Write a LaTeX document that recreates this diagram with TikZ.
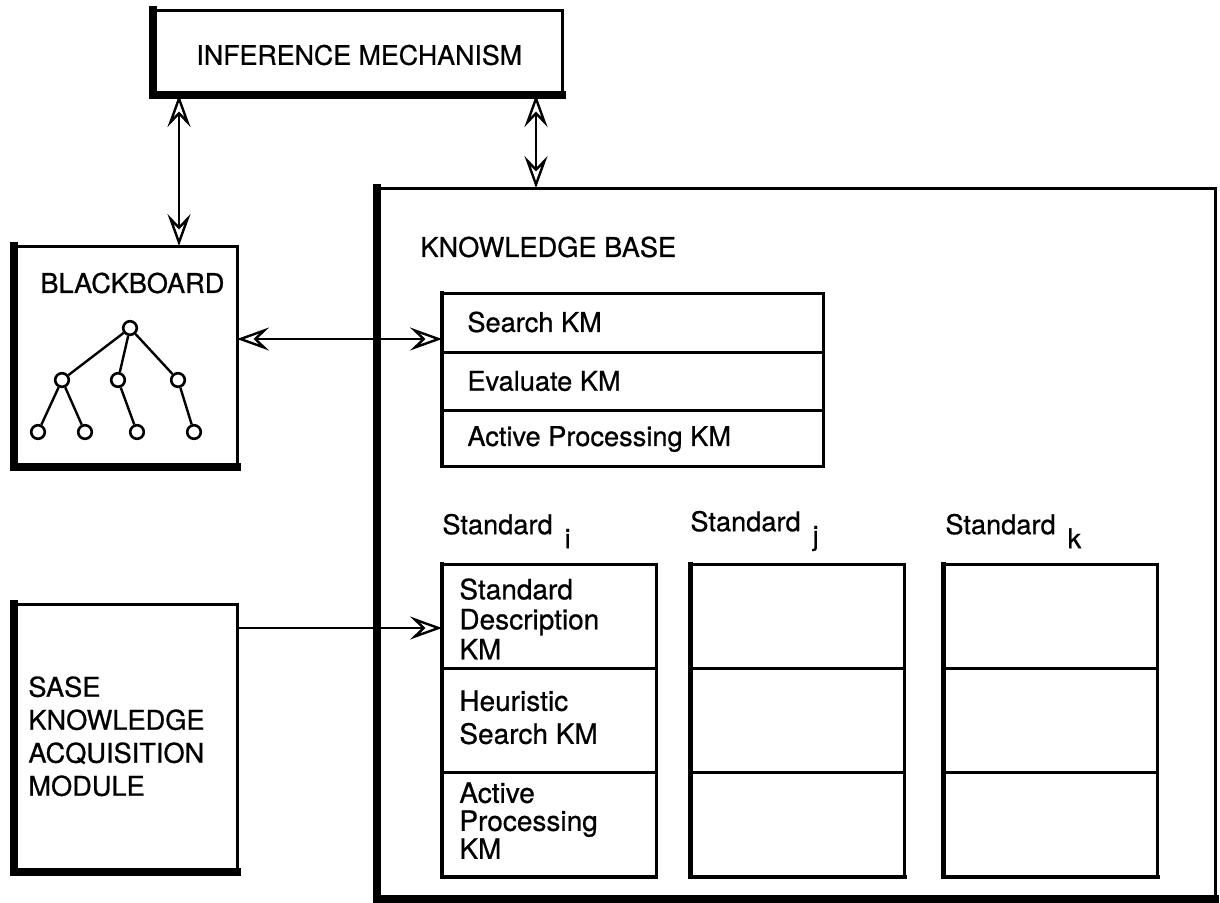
\documentclass[tikz,border=0pt]{standalone}
\usepackage{fontspec}
\setmainfont{TeX Gyre Heros}[FakeBold=0.7]
\usetikzlibrary{arrows.meta,calc}
\tikzset{ohead/.tip={Stealth[open,length=16pt,width=11.5pt,inset=6pt]}}
\begin{document}
\begin{tikzpicture}[x=0.5pt,y=-0.5pt,
  every node/.style={font=\fontsize{13.6}{15}\selectfont},
  box/.style={draw,line width=1.5pt,inner sep=0pt,outer sep=0pt,rectangle},
  heavy/.style={line width=3.6pt,line cap=rect},
  medium/.style={line width=2.4pt,line cap=rect},
  txt/.style={inner sep=0pt,anchor=west,align=left},
  cell/.style={inner sep=0pt,anchor=north west,align=left,font=\fontsize{14}{15}\selectfont},
  link/.style={line width=1.2pt,arrows={ohead-ohead}},
  onelink/.style={line width=1.2pt,arrows={-ohead}},
  leaf/.style={circle,draw,line width=1.3pt,fill=white,minimum size=6.8pt,inner sep=0pt},
  twig/.style={line width=1.2pt}
]
\useasboundingbox (0,0) rectangle (1220,902);

% outer boxes
\node[box,minimum width=204.5pt,minimum height=42.5pt] (inf) at (357.5,52.5) {};
\node[txt,font=\fontsize{13.4}{15}\selectfont] (inft) at (196,55) {INFERENCE MECHANISM};
\node[box,minimum width=111.5pt,minimum height=110.5pt] (bb) at (125.5,356.5) {};
\node[txt] (bbt) at (40,283) {BLACKBOARD};
\node[box,minimum width=111.5pt,minimum height=134pt] (sase) at (125.5,738) {};
\node[cell,font=\fontsize{13.6}{16.5}\selectfont] (saset) at (28,676) {SASE\\KNOWLEDGE\\ACQUISITION\\MODULE};
\node[box,minimum width=419pt,minimum height=355.5pt] (kb) at (796,543.5) {};
\node[txt] (kbt) at (420,247) {KNOWLEDGE BASE};

% heavy left and bottom edges
\foreach \n in {inf,bb,sase,kb}
  \draw[heavy] (\n.north west) -- (\n.south west) -- (\n.south east);

% knowledge module stack
\node[box,minimum width=190.5pt,minimum height=29.5pt] (sk) at (632.5,322.5) {};
\node[box,minimum width=190.5pt,minimum height=29pt] (ev) at (632.5,381) {};
\node[box,minimum width=190.5pt,minimum height=28pt] (ap) at (632.5,438) {};
\draw[medium] (sk.north west) -- (ap.south west);
\node[txt] at (467,322) {Search KM};
\node[txt] at (467,381) {Evaluate KM};
\node[txt] at (467,439) {Active Processing KM};

% standard columns
\foreach \c/\x in {i/549,j/797.5,k/1050.5}{
  \node[box,minimum width=107pt,minimum height=52pt] (\c1) at (\x,616) {};
  \node[box,minimum width=107pt,minimum height=52pt] (\c2) at (\x,720) {};
  \node[box,minimum width=107pt,minimum height=52.5pt] (\c3) at (\x,824.5) {};
  \draw[medium] (\c1.north west) -- (\c3.south west) -- (\c3.south east);
}
\node[txt] (li) at (442,531) {Standard\hspace{6pt}\raisebox{-7pt}{i}};
\node[txt] (lj) at (690,531) {Standard\hspace{6pt}\raisebox{-7pt}{j}};
\node[txt] (lk) at (945,531) {Standard\hspace{6pt}\raisebox{-7pt}{k}};

\node[cell] at (459,578) {Standard\\Description\\KM};
\node[cell,font=\fontsize{14}{16.5}\selectfont] at (459,690) {Heuristic\\Search KM};
\node[cell,font=\fontsize{14}{14}\selectfont] at (459,782) {Active\\Processing\\KM};

% blackboard tree
\node[leaf] (r) at (130,328) {};
\node[leaf] (m1) at (62,380) {};
\node[leaf] (m2) at (118,380) {};
\node[leaf] (m3) at (178,380) {};
\node[leaf] (l1) at (38,432) {};
\node[leaf] (l2) at (85,432) {};
\node[leaf] (l3) at (137,432) {};
\node[leaf] (l4) at (194,432) {};
\draw[twig] (r) -- (m1) (r) -- (m2) (r) -- (m3)
  (m1) -- (l1) (m1) -- (l2) (m2) -- (l3) (m3) -- (l4);

% connectors
\coordinate (ax1) at (179,0);
\coordinate (ax2) at (536,0);
\coordinate (ay1) at (0,339);
\coordinate (ay2) at (0,628);
\draw[link] (inf.south -| ax1) -- (bb.north -| ax1);
\draw[link] (inf.south -| ax2) -- (kb.north -| ax2);
\draw[link] (bb.east |- ay1) -- (sk.west |- ay1);
\draw[onelink] (sase.east |- ay2) -- (i1.west |- ay2);
\end{tikzpicture}
\end{document}
